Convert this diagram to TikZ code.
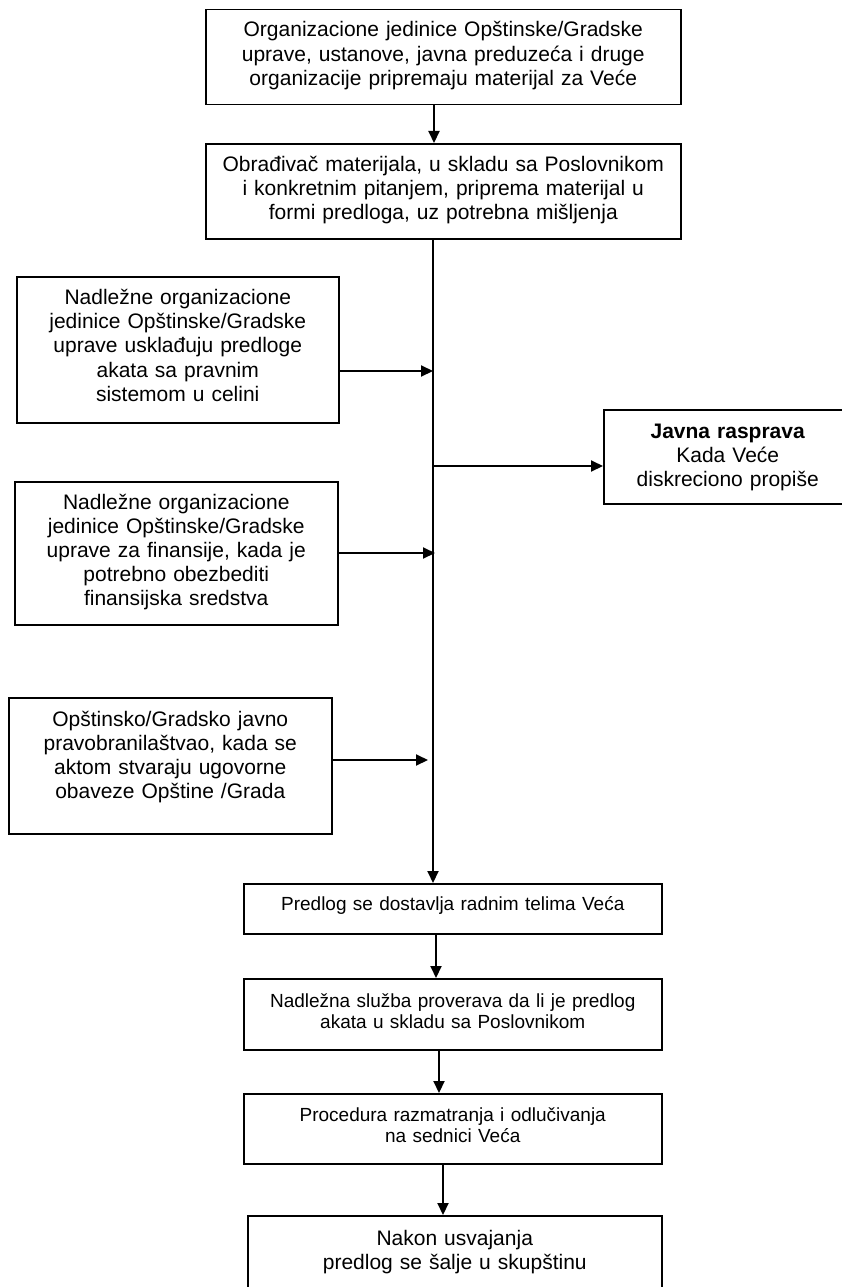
\documentclass[tikz,border=0pt]{standalone}
\usepackage{fontspec}
\setmainfont{Liberation Sans}
\usetikzlibrary{arrows.meta,calc}
\newcommand\bigtxt{\fontsize{21pt}{24.2pt}\selectfont}
\newcommand\smalltxt{\fontsize{19pt}{21.9pt}\selectfont}
\begin{document}
\begin{tikzpicture}[x=1pt,y=-1pt,
  box/.style={draw=black, line width=1.5pt, inner sep=0pt, anchor=north west},
  txt/.style={anchor=base, inner sep=0pt, align=center, text width=#1, font=\bigtxt},
  stxt/.style={anchor=base, inner sep=0pt, align=center, text width=#1, font=\smalltxt},
  arr/.style={line width=2pt, -{Triangle[length=12pt,width=11pt]}}
]
\useasboundingbox (0,0) rectangle (842,1287);
\clip (0,0) rectangle (842,1287);

% boxes
\node[box, minimum width=475pt, minimum height=95pt] (b1) at (205,9) {};
\node[box, minimum width=475pt, minimum height=95pt] (b2) at (205,143) {};
\node[box, minimum width=322pt, minimum height=146pt] (bA) at (16,276) {};
\node[box, minimum width=323pt, minimum height=143pt] (bB) at (14,481) {};
\node[box, minimum width=323pt, minimum height=136pt] (bC) at (8,697) {};
\node[box, minimum width=248pt, minimum height=94pt] (bR) at (603,409) {};
\node[box, minimum width=418pt, minimum height=50pt] (bD) at (243,883) {};
\node[box, minimum width=418pt, minimum height=71pt] (bE) at (243,978) {};
\node[box, minimum width=418pt, minimum height=70pt] (bF) at (243,1093) {};
\node[box, minimum width=414pt, minimum height=90pt] (bG) at (247,1215) {};

% texts
\node[txt=470pt] (t1) at ($(b1.north)+(0,28)$) {Organizacione jedinice Opštinske/Gradske\\ uprave, ustanove, javna preduzeća i druge\\ organizacije pripremaju materijal za Veće};
\node[txt=470pt] (t2) at ($(b2.north)+(0,28)$) {Obrađivač materijala, u skladu sa Poslovnikom\\ i konkretnim pitanjem, priprema materijal u\\ formi predloga, uz potrebna mišljenja};
\node[txt=318pt] (tA) at ($(bA.north)+(0,28.5)$) {Nadležne organizacione\\ jedinice Opštinske/Gradske\\ uprave usklađuju predloge\\ akata sa pravnim\\ sistemom u celini};
\node[txt=318pt] (tB) at ($(bB.north)+(0,28)$) {Nadležne organizacione\\ jedinice Opštinske/Gradske\\ uprave za finansije, kada je\\ potrebno obezbediti\\ finansijska sredstva};
\node[txt=318pt] (tC) at ($(bC.north)+(0,29)$) {Opštinsko/Gradsko javno\\ pravobranilaštvao, kada se\\ aktom stvaraju ugovorne\\ obaveze Opštine /Grada};
\node[txt=244pt] (tR) at ($(bR.north)+(0,29)$) {\textbf{Javna rasprava}\\ Kada Veće\\ diskreciono propiše};
\node[stxt=414pt] (tD) at ($(bD.north)+(0,27)$) {Predlog se dostavlja radnim telima Veća};
\node[stxt=414pt] (tE) at ($(bE.north)+(0,29)$) {Nadležna služba proverava da li je predlog\\ akata u skladu sa Poslovnikom};
\node[stxt=414pt] (tF) at ($(bF.north)+(0,28)$) {Procedura razmatranja i odlučivanja\\ na sednici Veća};
\node[txt=410pt] (tG) at ($(bG.north)+(0,30)$) {Nakon usvajanja\\ predlog se šalje u skupštinu};

% connector helper coordinates
\coordinate (x1) at (434,0);
\coordinate (sp) at (433,0);
\coordinate (x2) at (436,0);
\coordinate (x3) at (439,0);
\coordinate (x4) at (443,0);
\coordinate (yA) at (0,371);
\coordinate (yB) at (0,553);
\coordinate (yC) at (0,760);
\coordinate (yR) at (0,466);

% connectors
\draw[arr] (b1.south -| x1) -- (b2.north -| x1);
\draw[arr] (b2.south -| sp) -- (bD.north -| sp);
\draw[arr] (bA.east |- yA) -- (sp |- yA);
\draw[arr] (bB.east |- yB) -- ($(sp |- yB)+(2,0)$);
\draw[arr] (bC.east |- yC) -- ($(sp |- yC)+(-5,0)$);
\draw[arr] (sp |- yR) -- (bR.west |- yR);
\draw[arr] (bD.south -| x2) -- (bE.north -| x2);
\draw[arr] (bE.south -| x3) -- (bF.north -| x3);
\draw[arr] (bF.south -| x4) -- (bG.north -| x4);
\end{tikzpicture}
\end{document}
